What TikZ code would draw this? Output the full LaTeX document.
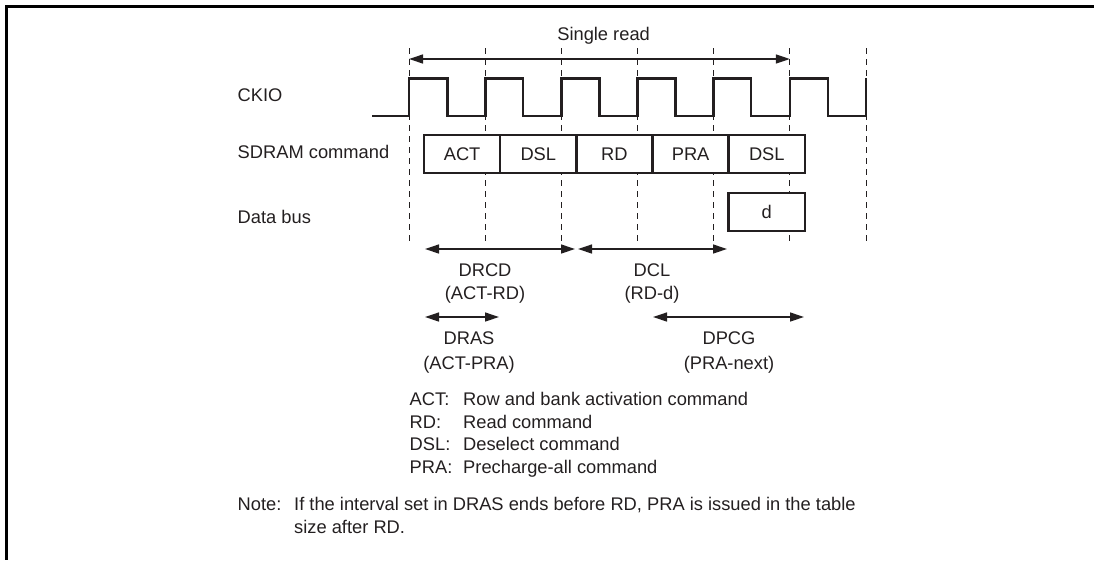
\documentclass[tikz,border=0pt]{standalone}
\usepackage{fontspec}
\setmainfont{Liberation Sans}
\usetikzlibrary{arrows.meta}
\definecolor{ink}{RGB}{35,31,32}
\begin{document}
\begin{tikzpicture}[x=1pt,y=-1pt,
  font=\fontsize{18.3pt}{22pt}\selectfont,
  every node/.style={text=ink},
  lbl/.style={anchor=base west, inner sep=0pt},
  ctr/.style={anchor=base, inner sep=0pt},
  cell/.style={draw=ink, line width=2.5pt, fill=white, minimum width=76.2pt, minimum height=38pt, inner sep=0pt},
  dim/.style={draw=ink, line width=1.3pt, {Triangle[length=14pt,width=9pt]}-{Triangle[length=14pt,width=9pt]}},
  guide/.style={draw=ink, line width=0.9pt, dash pattern=on 6pt off 5pt},
  clk/.style={draw=ink, line width=2.6pt, line join=miter},
  frame/.style={draw=black, line width=3pt}]
\useasboundingbox (0,0) rectangle (1094,560);
% frame (top and left only)
\coordinate (fc) at (6.7,6.7);
\coordinate (fr) at (1094,6.7);
\coordinate (fb) at (6.7,560);
\draw[frame] (fr) -- (fc) -- (fb);
% dashed guide lines
\foreach \i/\x in {0/409,1/485.2,2/561.3,3/637.5,4/713.7,5/789.8,6/866}{
  \coordinate (t\i) at (\x,48);
  \coordinate (b\i) at (\x,245);
  \draw[guide] (t\i) -- (b\i);
}
% single read
\coordinate (sr1) at (409,59);
\coordinate (sr2) at (789.8,59);
\draw[dim] (sr1) -- (sr2);
\node[ctr] (single) at (603.6,40.5) {Single read};
% clock
\draw[clk] (372,116) -- (409,116) -- (409,78.3) -- (447.2,78.3) -- (447.2,116)
  -- (485.2,116) -- (485.2,78.3) -- (523.1,78.3) -- (523.1,116)
  -- (561.3,116) -- (561.3,78.3) -- (599.3,78.3) -- (599.3,116)
  -- (637.5,116) -- (637.5,78.3) -- (675.4,78.3) -- (675.4,116)
  -- (713.7,116) -- (713.7,78.3) -- (751,78.3) -- (751,116)
  -- (789.8,116) -- (789.8,78.3) -- (828.1,78.3) -- (828.1,116)
  -- (866,116) -- (866,78.3);
% row labels
\node[lbl] (ckio) at (237.5,101.5) {CKIO};
\node[lbl] (sdram) at (237.5,158.5) {SDRAM command};
\node[lbl] (dbus) at (237.5,223.5) {Data bus};
% command cells
\node[cell] (act) at (462.1,154) {ACT};
\node[cell] (dsl1) at (538.3,154) {DSL};
\node[cell] (rd) at (614.4,154) {RD};
\node[cell] (pra) at (690.6,154) {PRA};
\node[cell] (dsl2) at (766.8,154) {DSL};
\node[cell] (d) at (766.8,212) {d};
% timing arrows
\coordinate (a1) at (425,249);
\coordinate (a2) at (575,249);
\coordinate (a3) at (578,249);
\coordinate (a4) at (727,249);
\draw[dim] (a1) -- (a2);
\draw[dim] (a3) -- (a4);
\node[ctr] (drcd) at (485,276.5) {DRCD};
\node[ctr] (drcdx) at (485,299.5) {(ACT-RD)};
\node[ctr] (dcl) at (652,276.5) {DCL};
\node[ctr] (dclx) at (652,299.5) {(RD-d)};
\coordinate (a5) at (425,317);
\coordinate (a6) at (499,317);
\coordinate (a7) at (653,317);
\coordinate (a8) at (804,317);
\draw[dim] (a5) -- (a6);
\draw[dim] (a7) -- (a8);
\node[ctr] (dras) at (469,344) {DRAS};
\node[ctr] (drasx) at (469,369) {(ACT-PRA)};
\node[ctr] (dpcg) at (729,344) {DPCG};
\node[ctr] (dpcgx) at (729,369) {(PRA-next)};
% legend
\node[lbl] (k1) at (409.5,405.5) {ACT:};
\node[lbl] (v1) at (463,405.5) {Row and bank activation command};
\node[lbl] (k2) at (409.5,428) {RD:};
\node[lbl] (v2) at (463,428) {Read command};
\node[lbl] (k3) at (409.5,450.5) {DSL:};
\node[lbl] (v3) at (463,450.5) {Deselect command};
\node[lbl] (k4) at (409.5,473) {PRA:};
\node[lbl] (v4) at (463,473) {Precharge-all command};
% note
\node[lbl] (note) at (237.5,510.5) {Note:};
\node[lbl] (n1) at (294,510.5) {If the interval set in DRAS ends before RD, PRA is issued in the table};
\node[lbl] (n2) at (294,533.5) {size after RD.};
\end{tikzpicture}
\end{document}
